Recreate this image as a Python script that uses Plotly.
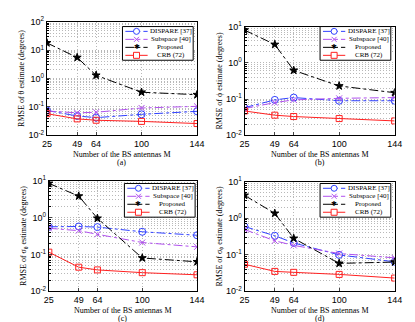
import plotly.graph_objs as go

antennas = [25, 49, 64, 100, 144]
series_names = ['DISPARE [37]', 'Subspace [40]', 'Proposed', 'CRB (72)']

# (a) theta
theta_dispare = [0.075, 0.048, 0.042, 0.055, 0.070]
theta_subspace = [0.072, 0.062, 0.065, 0.092, 0.105]
theta_proposed = [18, 5.5, 1.3, 0.33, 0.27]
theta_crb = [0.058, 0.038, 0.034, 0.031, 0.026]

# (b) phi
phi_dispare = [0.058, 0.095, 0.11, 0.09, 0.09]
phi_subspace = [0.055, 0.08, 0.095, 0.105, 0.11]
phi_proposed = [8, 3.2, 0.62, 0.23, 0.15]
phi_crb = [0.047, 0.036, 0.033, 0.029, 0.025]

# (c) sigma theta
sth_dispare = [0.56, 0.57, 0.55, 0.41, 0.33]
sth_subspace = [0.51, 0.44, 0.35, 0.21, 0.16]
sth_proposed = [8.4, 3.8, 0.95, 0.08, 0.063]
sth_crb = [0.115, 0.045, 0.038, 0.032, 0.028]

# (d) sigma phi
sph_dispare = [0.59, 0.33, 0.21, 0.099, 0.064]
sph_subspace = [0.49, 0.24, 0.18, 0.108, 0.082]
sph_proposed = [4.2, 1.35, 0.28, 0.058, 0.063]
sph_crb = [0.055, 0.035, 0.033, 0.029, 0.023]

W, H = 415, 322


def px(x):
    return x / W


def py(y):
    return 1 - y / H


# panel boxes in pixels: left, right, top, bottom ; legend box left, top
panels = [
    dict(data=[theta_dispare, theta_subspace, theta_proposed, theta_crb],
         ytitle='RMSE of θ estimate (degrees)', tag='(a)', decades=(-2, 2),
         box=(35, 190, 7, 125), leg=(113, 12), lab=(20, 28)),
    dict(data=[phi_dispare, phi_subspace, phi_proposed, phi_crb],
         ytitle='RMSE of ϕ estimate (degrees)', tag='(b)', decades=(-2, 1),
         box=(239, 394, 12, 125), leg=(317, 12), lab=(20, 28)),
    dict(data=[sth_dispare, sth_subspace, sth_proposed, sth_crb],
         ytitle='RMSE of σ<sub>θ</sub> estimate (degrees)', tag='(c)', decades=(-2, 1),
         box=(37, 190, 172, 287), leg=(115, 175), lab=(20, 28.5)),
    dict(data=[sph_dispare, sph_subspace, sph_proposed, sph_crb],
         ytitle='RMSE of σ<sub>ϕ</sub> estimate (degrees)', tag='(d)', decades=(-2, 1),
         box=(239, 394, 173, 287), leg=(317, 175), lab=(20, 28.5)),
]

styles = [
    dict(color='#3040ff', dash='dashdot', symbol='circle-open', size=7),
    dict(color='#b050ee', dash='dashdot', symbol='x-thin-open', size=6),
    dict(color='#000000', dash='dashdot', symbol='star', size=6),
    dict(color='#ff2020', dash='solid', symbol='square-open', size=6),
]

serif = 'Liberation Serif, Times New Roman, serif'
sans = 'Liberation Sans, Arial, sans-serif'
fig = go.Figure()
layout = dict(width=W, height=H, margin=dict(l=0, r=0, t=0, b=0),
              paper_bgcolor='white', plot_bgcolor='white', showlegend=False,
              font=dict(family=serif, size=9, color='black'))
shapes, annotations = [], []

for i, p in enumerate(panels):
    n = '' if i == 0 else str(i + 1)
    l, r, t, b = p['box']
    for j, vals in enumerate(p['data']):
        st = styles[j]
        fig.add_trace(go.Scatter(
            x=antennas, y=vals, name=series_names[j], mode='lines+markers',
            xaxis='x' + n, yaxis='y' + n,
            line=dict(color=st['color'], dash=st['dash'], width=1),
            marker=dict(symbol=st['symbol'], size=st['size'], color=st['color'],
                        line=dict(color=st['color'], width=1))))

    lo, hi = p['decades']
    major = [10.0 ** k for k in range(lo, hi + 1)]
    major_text = ['10<sup>%d</sup>' % k for k in range(lo, hi + 1)]
    minor = [m * 10.0 ** k for k in range(lo, hi) for m in range(2, 10)]

    grid = dict(showgrid=True, gridcolor='#b8b8b8', griddash='1px,2px', gridwidth=1)
    layout['xaxis' + n] = dict(
        domain=[px(l), px(r)], anchor='y' + n, range=[25, 144],
        tickvals=antennas, ticks='inside', ticklen=3,
        showline=True, linecolor='black', linewidth=1, mirror=True,
        zeroline=False, tickfont=dict(size=9, family=sans), **grid)
    layout['yaxis' + n] = dict(
        domain=[py(b), py(t)], anchor='x' + n, type='log', range=[lo, hi],
        tickvals=major, ticktext=major_text, ticks='inside', ticklen=3,
        minor=dict(tickvals=minor, ticks='inside', ticklen=2, tickcolor='black',
                   **grid),
        showline=True, linecolor='black', linewidth=1, mirror=True,
        zeroline=False, tickfont=dict(size=9, family=sans),
        title=dict(text=p['ytitle'], font=dict(size=8), standoff=2), **grid)

    # x title and panel tag
    cx = px((l + r) / 2)
    annotations.append(dict(x=cx, y=py(b + p['lab'][0]), xref='paper', yref='paper',
                            text='Number of the BS antennas M', showarrow=False,
                            font=dict(size=8), xanchor='center', yanchor='middle'))
    annotations.append(dict(x=cx, y=py(b + p['lab'][1]), xref='paper', yref='paper',
                            text=p['tag'], showarrow=False,
                            font=dict(size=8), xanchor='center', yanchor='middle'))

    # legend box
    lx, ly = p['leg']
    shapes.append(dict(type='rect', xref='paper', yref='paper',
                       x0=px(lx), x1=px(lx + 73), y0=py(ly), y1=py(ly + 35),
                       fillcolor='white', line=dict(color='black', width=1)))
    for j, name in enumerate(series_names):
        st = styles[j]
        ry = ly + 5 + j * 8.3
        shapes.append(dict(type='line', xref='paper', yref='paper',
                           x0=px(lx + 3), x1=px(lx + 26), y0=py(ry), y1=py(ry),
                           line=dict(color=st['color'], width=1, dash=st['dash'])))
        mx = px(lx + 14.5)
        if j == 0:
            shapes.append(dict(type='circle', xref='paper', yref='paper',
                               xsizemode='pixel', ysizemode='pixel',
                               xanchor=mx, yanchor=py(ry),
                               x0=-3, x1=3, y0=-3, y1=3, fillcolor='white',
                               line=dict(color=st['color'], width=1)))
        elif j == 1:
            for s in (1, -1):
                shapes.append(dict(type='line', xref='paper', yref='paper',
                                   xsizemode='pixel', ysizemode='pixel',
                                   xanchor=mx, yanchor=py(ry),
                                   x0=-2.5, x1=2.5, y0=-2.5 * s, y1=2.5 * s,
                                   line=dict(color=st['color'], width=1)))
        elif j == 2:
            annotations.append(dict(x=mx, y=py(ry), xref='paper', yref='paper',
                                    text='✱', showarrow=False,
                                    font=dict(size=7, color='black',
                                              family='DejaVu Sans'),
                                    xanchor='center', yanchor='middle'))
        else:
            shapes.append(dict(type='rect', xref='paper', yref='paper',
                               xsizemode='pixel', ysizemode='pixel',
                               xanchor=mx, yanchor=py(ry),
                               x0=-3, x1=3, y0=-3, y1=3, fillcolor='white',
                               line=dict(color=st['color'], width=1)))
        annotations.append(dict(x=px(lx + 50), y=py(ry), xref='paper', yref='paper',
                                text=name, showarrow=False,
                                font=dict(size=7), xanchor='center',
                                yanchor='middle'))

layout['shapes'] = shapes
layout['annotations'] = annotations
fig.update_layout(**layout)
fig.write_html("out.html")
